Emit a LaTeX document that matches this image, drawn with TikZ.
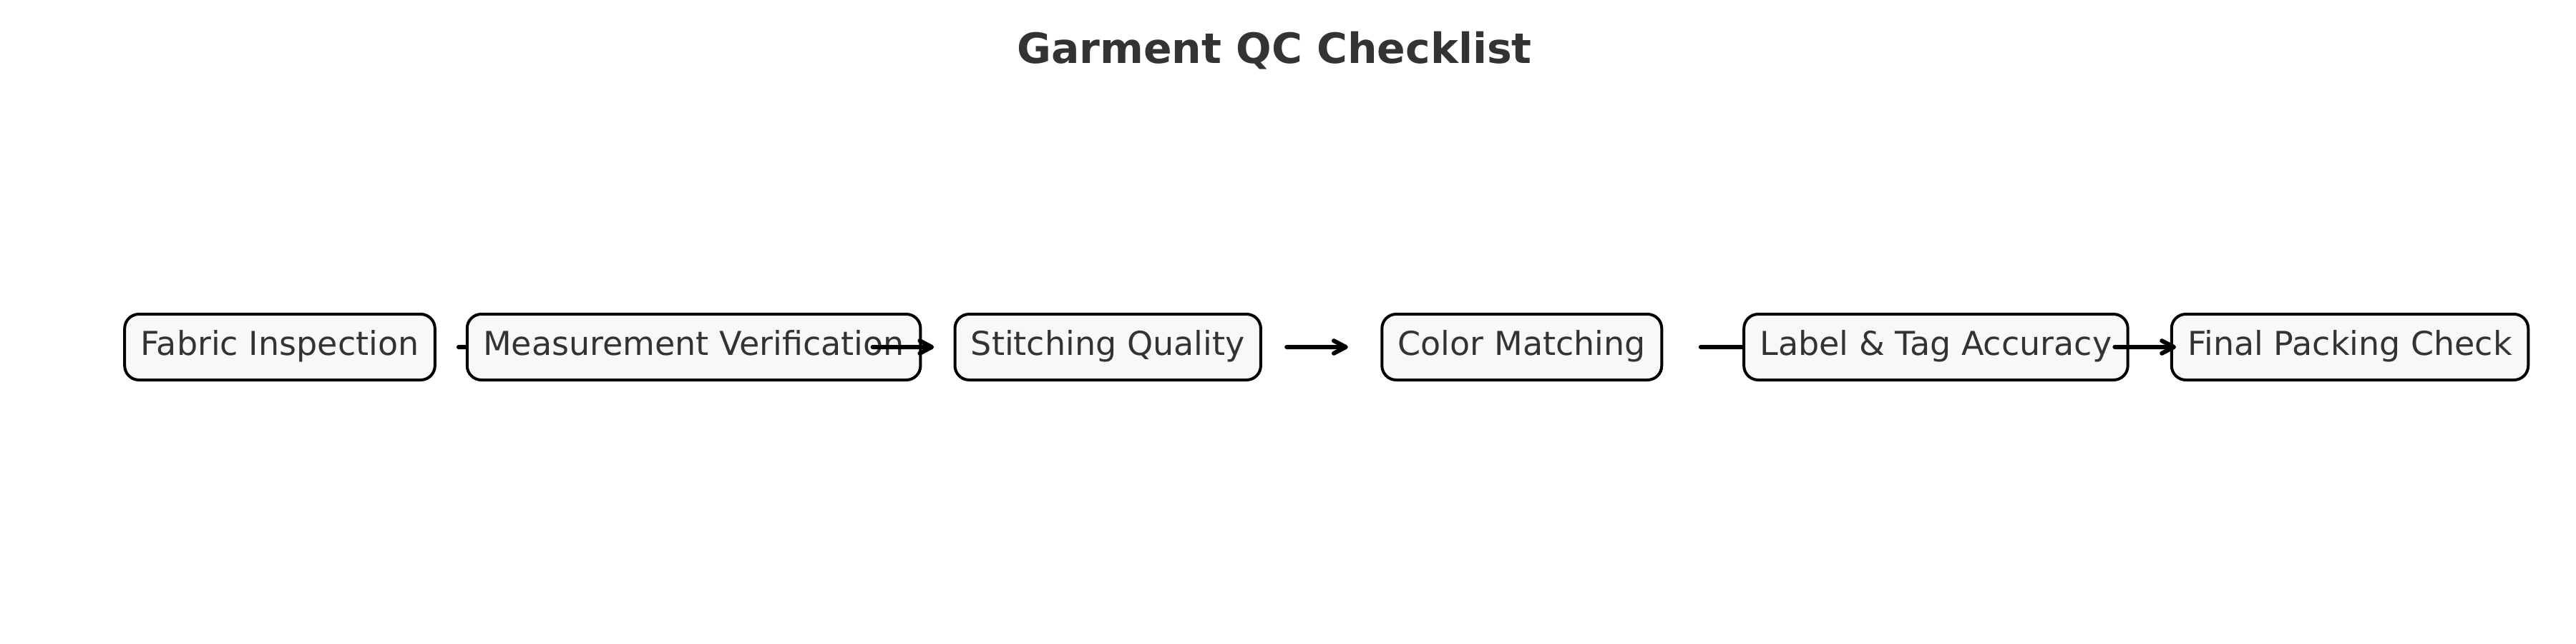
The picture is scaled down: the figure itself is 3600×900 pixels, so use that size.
\documentclass[tikz,border=0pt]{standalone}
\usepackage{fontspec}
\setmainfont{DejaVu Sans}
\usetikzlibrary{arrows.meta,backgrounds,calc}
\definecolor{txt}{HTML}{333333}
\definecolor{boxfill}{HTML}{F8F8F8}
\begin{document}
\begin{tikzpicture}[x=0.25pt,y=-0.25pt,
  stepbox/.style={draw=black, line width=1pt, fill=boxfill, rounded corners=5pt,
    text=txt, font=\fontsize{11.5}{13}\selectfont, inner xsep=5.6pt, inner ysep=0pt,
    minimum height=23pt, text height=8.5pt, text depth=3pt},
  flow/.style={draw=black, line width=1.5pt, line cap=round,
    -{Straight Barb[length=4.2pt,width=4.4pt,line cap=round,line join=round]}},
  titlestyle/.style={font=\fontsize{14.6}{17}\selectfont\bfseries, text=txt, anchor=base, inner sep=0pt}]
\useasboundingbox (0,0) rectangle (3600,900);
\node[titlestyle] (title) at (1781,88) {Garment QC Checklist};
\node[stepbox] (n1) at (391,485) {Fabric Inspection};
\node[stepbox] (n2) at (969.6,485) {Measurement Verification};
\node[stepbox] (n3) at (1548.2,485) {Stitching Quality};
\node[stepbox] (n4) at (2126.8,485) {Color Matching};
\node[stepbox] (n5) at (2705.4,485) {Label \& Tag Accuracy};
\node[stepbox] (n6) at (3284,485) {Final Packing Check};
\begin{scope}[on background layer]
  \fill[white] (0,0) rectangle (3600,900);
  \draw[flow] ($(n1.center)!0.432!(n2.center)$) -- ($(n1.center)!0.580!(n2.center)$);
  \draw[flow] ($(n4.center)!0.432!(n5.center)$) -- ($(n4.center)!0.580!(n5.center)$);
\end{scope}
\draw[flow] ($(n2.center)!0.432!(n3.center)$) -- ($(n2.center)!0.580!(n3.center)$);
\draw[flow] ($(n3.center)!0.432!(n4.center)$) -- ($(n3.center)!0.580!(n4.center)$);
\draw[flow] ($(n5.center)!0.432!(n6.center)$) -- ($(n5.center)!0.580!(n6.center)$);
\end{tikzpicture}
\end{document}
